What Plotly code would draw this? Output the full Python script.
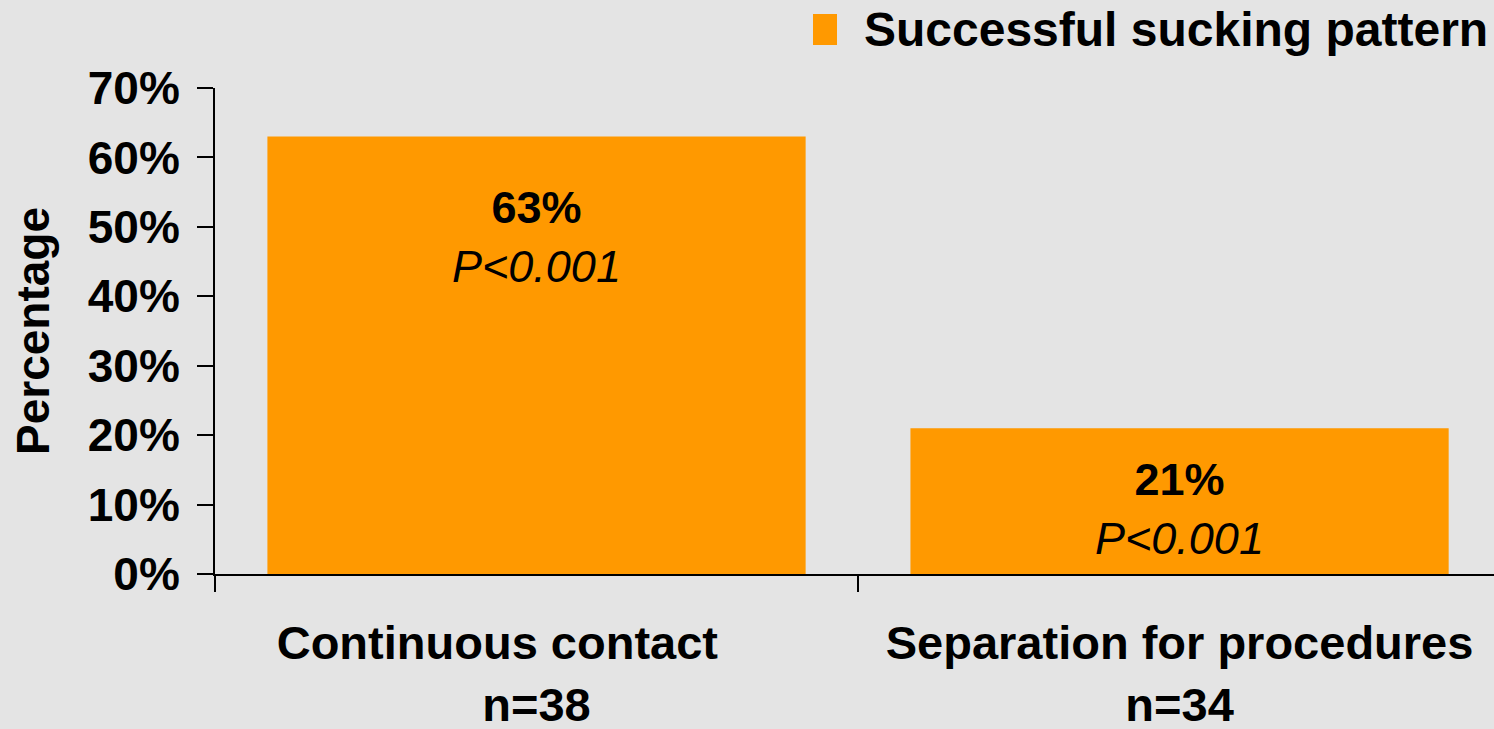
import plotly.graph_objects as go

# ---- data ----
categories = ["Continuous contact&nbsp;&nbsp;&nbsp;&nbsp;&nbsp;&nbsp;<br>n=38",
              "Separation for procedures<br>n=34"]
values = [63, 21]
value_labels = ["63%", "21%"]
p_labels = ["P<0.001", "P<0.001"]
series_name = "Successful sucking pattern"
y_ticks = [0, 10, 20, 30, 40, 50, 60, 70]
y_tick_text = ["0%", "10%", "20%", "30%", "40%", "50%", "60%", "70%"]

BAR = "#FF9900"
BG = "#e4e4e4"
FONT = "Liberation Sans, Arial, sans-serif"

W, H = 1494, 729
pl, pr, pt, pb = 215, 0, 88, 155
pw, ph = W - pl - pr, H - pt - pb


def px_x(x):
    return (x - pl) / pw


def px_y(y):
    return (H - pb - y) / ph


fig = go.Figure()
fig.add_trace(go.Bar(
    x=categories, y=values, name=series_name,
    marker=dict(color=BAR, line=dict(width=0)),
    width=0.837, showlegend=False, hoverinfo="skip",
))

# in-bar labels
label_shift = [-43, -24]
for cat, v, vl, p, sh in zip(categories, values, value_labels, p_labels, label_shift):
    fig.add_annotation(
        x=cat, y=v, xref="x", yref="y", yanchor="top", yshift=sh,
        text=f"<b>{vl}</b><br><i>{p}</i>", showarrow=False,
        font=dict(family=FONT, size=45, color="black"), align="center",
    )

# y-axis title
fig.add_annotation(
    x=px_x(33), y=px_y(331), xref="paper", yref="paper", showarrow=False,
    xanchor="center", yanchor="middle",
    text="<b>Percentage</b>", textangle=-90,
    font=dict(family=FONT, size=46, color="black"),
)

# legend (swatch + label)
fig.add_shape(type="rect", xref="paper", yref="paper",
              x0=px_x(813), x1=px_x(837), y0=px_y(45), y1=px_y(14),
              line=dict(width=0), fillcolor=BAR)
fig.add_annotation(
    x=px_x(862), y=px_y(29), xref="paper", yref="paper",
    xanchor="left", yanchor="middle", showarrow=False,
    text=f"<b>{series_name}</b>",
    font=dict(family=FONT, size=48, color="black"),
)

fig.update_layout(
    width=W, height=H,
    margin=dict(l=pl, r=pr, t=pt, b=pb, autoexpand=False),
    paper_bgcolor=BG, plot_bgcolor=BG,
    font=dict(family=FONT, color="black"),
    xaxis=dict(
        type="category", range=[-0.5, 1.489], automargin=False,
        showline=True, linecolor="black", linewidth=2,
        ticks="outside", tickson="boundaries", ticklen=16, tickwidth=2, tickcolor="black",
        tickfont=dict(family=FONT, size=47, weight="bold"),
        showgrid=False, zeroline=False, fixedrange=True,
        ticklabelstandoff=27,
    ),
    yaxis=dict(
        range=[0, 70], tickmode="array", tickvals=y_ticks, ticktext=y_tick_text,
        automargin=False,
        showline=True, linecolor="black", linewidth=2,
        ticks="outside", ticklen=16, tickwidth=2, tickcolor="black",
        tickfont=dict(family=FONT, size=46, weight="bold"),
        showgrid=False, zeroline=False, fixedrange=True,
        ticklabelstandoff=8,
    ),
)

fig.write_html(
    "out.html",
    config={"displayModeBar": False},
    post_script="document.body.style.margin='0';document.body.style.padding='0';"
                "document.body.style.overflow='hidden';",
)
